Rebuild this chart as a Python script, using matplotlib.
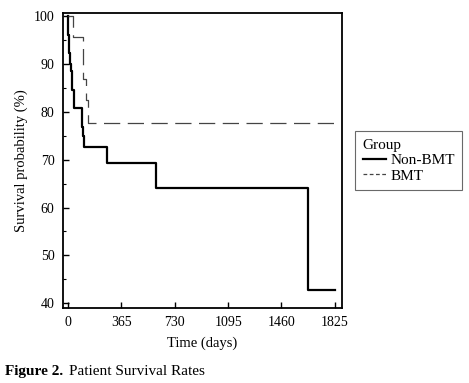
import matplotlib.pyplot as plt
from matplotlib.ticker import MultipleLocator
from matplotlib.lines import Line2D

plt.rcParams['font.family'] = ['Liberation Serif', 'DejaVu Serif']

# Kaplan-Meier steps
nonbmt_days = [0, 3, 8, 14, 22, 30, 38, 93, 100, 108, 269, 599, 1640, 1825]
nonbmt_surv = [100, 96.2, 92.3, 90.0, 88.5, 84.6, 80.8, 76.9, 75.0, 72.7, 69.4, 64.0, 42.7, 42.7]

bmt_days = [0, 36, 100, 120, 140, 1870]
bmt_surv = [100, 95.7, 87.0, 82.6, 77.7, 77.7]

xticks = [0, 365, 730, 1095, 1460, 1825]

fig = plt.figure(figsize=(4.69, 3.83), dpi=100)
ax = fig.add_axes([0.134, 0.196, 0.595, 0.770])

ax.step(nonbmt_days, nonbmt_surv, where='post', color='black', lw=1.6, label='Non-BMT')
ax.step(bmt_days, bmt_surv, where='post', color='#444444', lw=0.9,
        dashes=(13, 6), label='BMT')

ax.set_xlim(-35, 1873)
ax.set_ylim(39, 100.7)
ax.set_xticks(xticks)
ax.yaxis.set_major_locator(MultipleLocator(10))
ax.yaxis.set_minor_locator(MultipleLocator(5))
ax.tick_params(direction='in', length=4, width=1, labelsize=10, pad=6)
ax.tick_params(which='minor', direction='in', length=2, width=0.8)
for s in ax.spines.values():
    s.set_linewidth(1.3)

ax.set_xlabel('Time (days)', fontsize=10.5, labelpad=5)
ax.set_ylabel('Survival probability (%)', fontsize=10.5, labelpad=4)

handles = [Line2D([], [], color='black', lw=1.6),
           Line2D([], [], color='#444444', lw=0.9, dashes=(3, 2))]
leg = fig.legend(handles, ['Non-BMT', 'BMT'], title='Group', loc='upper left',
                 bbox_to_anchor=(0.757, 0.658), borderaxespad=0, fontsize=11,
                 title_fontsize=11, frameon=True, fancybox=False,
                 edgecolor='#444444', handlelength=1.5, handletextpad=0.3,
                 borderpad=0.5, labelspacing=0.12)
leg._legend_box.align = 'left'
leg.get_frame().set_linewidth(0.8)

fig.text(0.01, 0.02, 'Figure 2.', fontsize=11, fontweight='bold')
fig.text(0.147, 0.02, 'Patient Survival Rates', fontsize=11)

fig.savefig('out.png', dpi=100)
